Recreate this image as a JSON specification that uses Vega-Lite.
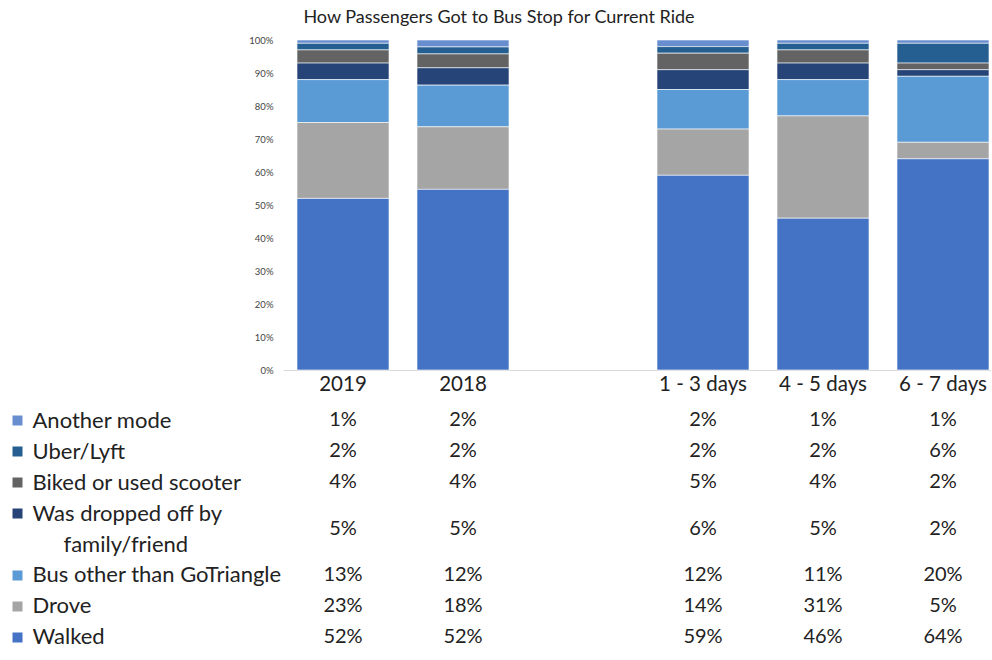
{
  "$schema": "https://vega.github.io/schema/vega-lite/v6.json",
  "padding": {"left": 7, "top": 9, "right": 0, "bottom": 0},
  "background": "white",
  "config": {"view": {"stroke": null}, "font": "Lato"},
  "title": {"text": "How Passengers Got to Bus Stop for Current Ride", "font": "Lato", "fontSize": 18, "fontWeight": "normal", "color": "#222222", "anchor": "middle", "offset": 8},
  "data": {"values": [
    {"cat": "2019", "mode": "Another mode", "share": 0.01},
    {"cat": "2019", "mode": "Uber/Lyft", "share": 0.02},
    {"cat": "2019", "mode": "Biked or used scooter", "share": 0.04},
    {"cat": "2019", "mode": "Was dropped off by family/friend", "share": 0.05},
    {"cat": "2019", "mode": "Bus other than GoTriangle", "share": 0.13},
    {"cat": "2019", "mode": "Drove", "share": 0.23},
    {"cat": "2019", "mode": "Walked", "share": 0.52},
    {"cat": "2018", "mode": "Another mode", "share": 0.02},
    {"cat": "2018", "mode": "Uber/Lyft", "share": 0.02},
    {"cat": "2018", "mode": "Biked or used scooter", "share": 0.04},
    {"cat": "2018", "mode": "Was dropped off by family/friend", "share": 0.05},
    {"cat": "2018", "mode": "Bus other than GoTriangle", "share": 0.12},
    {"cat": "2018", "mode": "Drove", "share": 0.18},
    {"cat": "2018", "mode": "Walked", "share": 0.52},
    {"cat": "1 - 3 days", "mode": "Another mode", "share": 0.02},
    {"cat": "1 - 3 days", "mode": "Uber/Lyft", "share": 0.02},
    {"cat": "1 - 3 days", "mode": "Biked or used scooter", "share": 0.05},
    {"cat": "1 - 3 days", "mode": "Was dropped off by family/friend", "share": 0.06},
    {"cat": "1 - 3 days", "mode": "Bus other than GoTriangle", "share": 0.12},
    {"cat": "1 - 3 days", "mode": "Drove", "share": 0.14},
    {"cat": "1 - 3 days", "mode": "Walked", "share": 0.59},
    {"cat": "4 - 5 days", "mode": "Another mode", "share": 0.01},
    {"cat": "4 - 5 days", "mode": "Uber/Lyft", "share": 0.02},
    {"cat": "4 - 5 days", "mode": "Biked or used scooter", "share": 0.04},
    {"cat": "4 - 5 days", "mode": "Was dropped off by family/friend", "share": 0.05},
    {"cat": "4 - 5 days", "mode": "Bus other than GoTriangle", "share": 0.11},
    {"cat": "4 - 5 days", "mode": "Drove", "share": 0.31},
    {"cat": "4 - 5 days", "mode": "Walked", "share": 0.46},
    {"cat": "6 - 7 days", "mode": "Another mode", "share": 0.01},
    {"cat": "6 - 7 days", "mode": "Uber/Lyft", "share": 0.06},
    {"cat": "6 - 7 days", "mode": "Biked or used scooter", "share": 0.02},
    {"cat": "6 - 7 days", "mode": "Was dropped off by family/friend", "share": 0.02},
    {"cat": "6 - 7 days", "mode": "Bus other than GoTriangle", "share": 0.20},
    {"cat": "6 - 7 days", "mode": "Drove", "share": 0.05},
    {"cat": "6 - 7 days", "mode": "Walked", "share": 0.64}
  ]},
  "spacing": 10,
  "vconcat": [
    {
      "width": 708,
      "height": 330,
      "transform": [
        {"calculate": "indexof(['Walked', 'Drove', 'Bus other than GoTriangle', 'Was dropped off by family/friend', 'Biked or used scooter', 'Uber/Lyft', 'Another mode'], datum.mode)", "as": "stackRank"}
      ],
      "mark": {"type": "bar", "stroke": "#ffffff", "strokeWidth": 0.6},
      "encoding": {
        "x": {"field": "cat", "type": "nominal",
          "scale": {"type": "band", "domain": ["2019", "2018", " ", "1 - 3 days", "4 - 5 days", "6 - 7 days"], "paddingInner": 0.2333, "paddingOuter": 0.0667, "align": 0.875},
          "axis": {"title": null, "labelAngle": 0, "labelFont": "Lato", "labelFontSize": 20.5, "labelColor": "#222222", "ticks": false, "tickSize": 0, "labelPadding": 4, "domainColor": "#d9d9d9", "domainWidth": 1}},
        "y": {"field": "share", "type": "quantitative", "stack": "normalize",
          "scale": {"domain": [0, 1]},
          "axis": {"title": null, "format": ".0%", "values": [0, 0.1, 0.2, 0.3, 0.4, 0.5, 0.6, 0.7, 0.8, 0.9, 1], "grid": false, "domain": false, "ticks": false, "tickSize": 0, "labelPadding": 10, "labelFont": "Lato", "labelFontSize": 9.5, "labelColor": "#444444"}},
        "color": {"field": "mode", "type": "nominal",
          "scale": {"domain": ["Walked", "Drove", "Bus other than GoTriangle", "Was dropped off by family/friend", "Biked or used scooter", "Uber/Lyft", "Another mode"],
                    "range": ["#4472C4", "#A5A5A5", "#5B9BD5", "#264478", "#636363", "#255E91", "#698ED0"]},
          "legend": null},
        "order": {"field": "stackRank", "type": "quantitative", "sort": "ascending"}
      }
    },
    {
      "width": 708,
      "height": 247.2,
      "encoding": {
        "x": {"field": "cat", "type": "nominal", "bandPosition": 0.5,
          "scale": {"type": "band", "domain": ["2019", "2018", " ", "1 - 3 days", "4 - 5 days", "6 - 7 days"], "paddingInner": 0.2333, "paddingOuter": 0.0667, "align": 0.875},
          "axis": null},
        "y": {"field": "mode", "type": "nominal",
          "scale": {"type": "point", "padding": 0.5, "domain": ["Another mode", "Uber/Lyft", "Biked or used scooter", "Was dropped off by family/friend", "family/friend", "Bus other than GoTriangle", "Drove", "Walked"]},
          "axis": {"title": null, "orient": "left", "offset": 261, "domain": false, "ticks": true, "tickSize": 10, "tickWidth": 10,
            "tickColor": {"condition": [
              {"test": "datum.value == 'Another mode'", "value": "#698ED0"},
              {"test": "datum.value == 'Uber/Lyft'", "value": "#255E91"},
              {"test": "datum.value == 'Biked or used scooter'", "value": "#636363"},
              {"test": "datum.value == 'Was dropped off by family/friend'", "value": "#264478"},
              {"test": "datum.value == 'Bus other than GoTriangle'", "value": "#5B9BD5"},
              {"test": "datum.value == 'Drove'", "value": "#A5A5A5"},
              {"test": "datum.value == 'Walked'", "value": "#4472C4"}
            ], "value": "transparent"},
            "labelAlign": "left",
            "labelPadding": {"condition": {"test": "datum.value == 'family/friend'", "value": -51}, "value": -20},
            "labelExpr": "datum.value == 'Was dropped off by family/friend' ? 'Was dropped off by' : datum.value",
            "labelFont": "Lato", "labelFontSize": 22, "labelColor": "#222222", "labelLimit": 400}}
      },
      "layer": [
        {
          "transform": [{"filter": "datum.mode != 'Was dropped off by family/friend'"}],
          "mark": {"type": "text", "font": "Lato", "fontSize": 20, "color": "#222222", "baseline": "middle", "align": "center"},
          "encoding": {"text": {"field": "share", "type": "quantitative", "format": ".0%"}}
        },
        {
          "transform": [{"filter": "datum.mode == 'Was dropped off by family/friend'"}],
          "mark": {"type": "text", "font": "Lato", "fontSize": 20, "color": "#222222", "baseline": "middle", "align": "center", "dy": 15.5},
          "encoding": {"text": {"field": "share", "type": "quantitative", "format": ".0%"}}
        }
      ]
    }
  ]
}
